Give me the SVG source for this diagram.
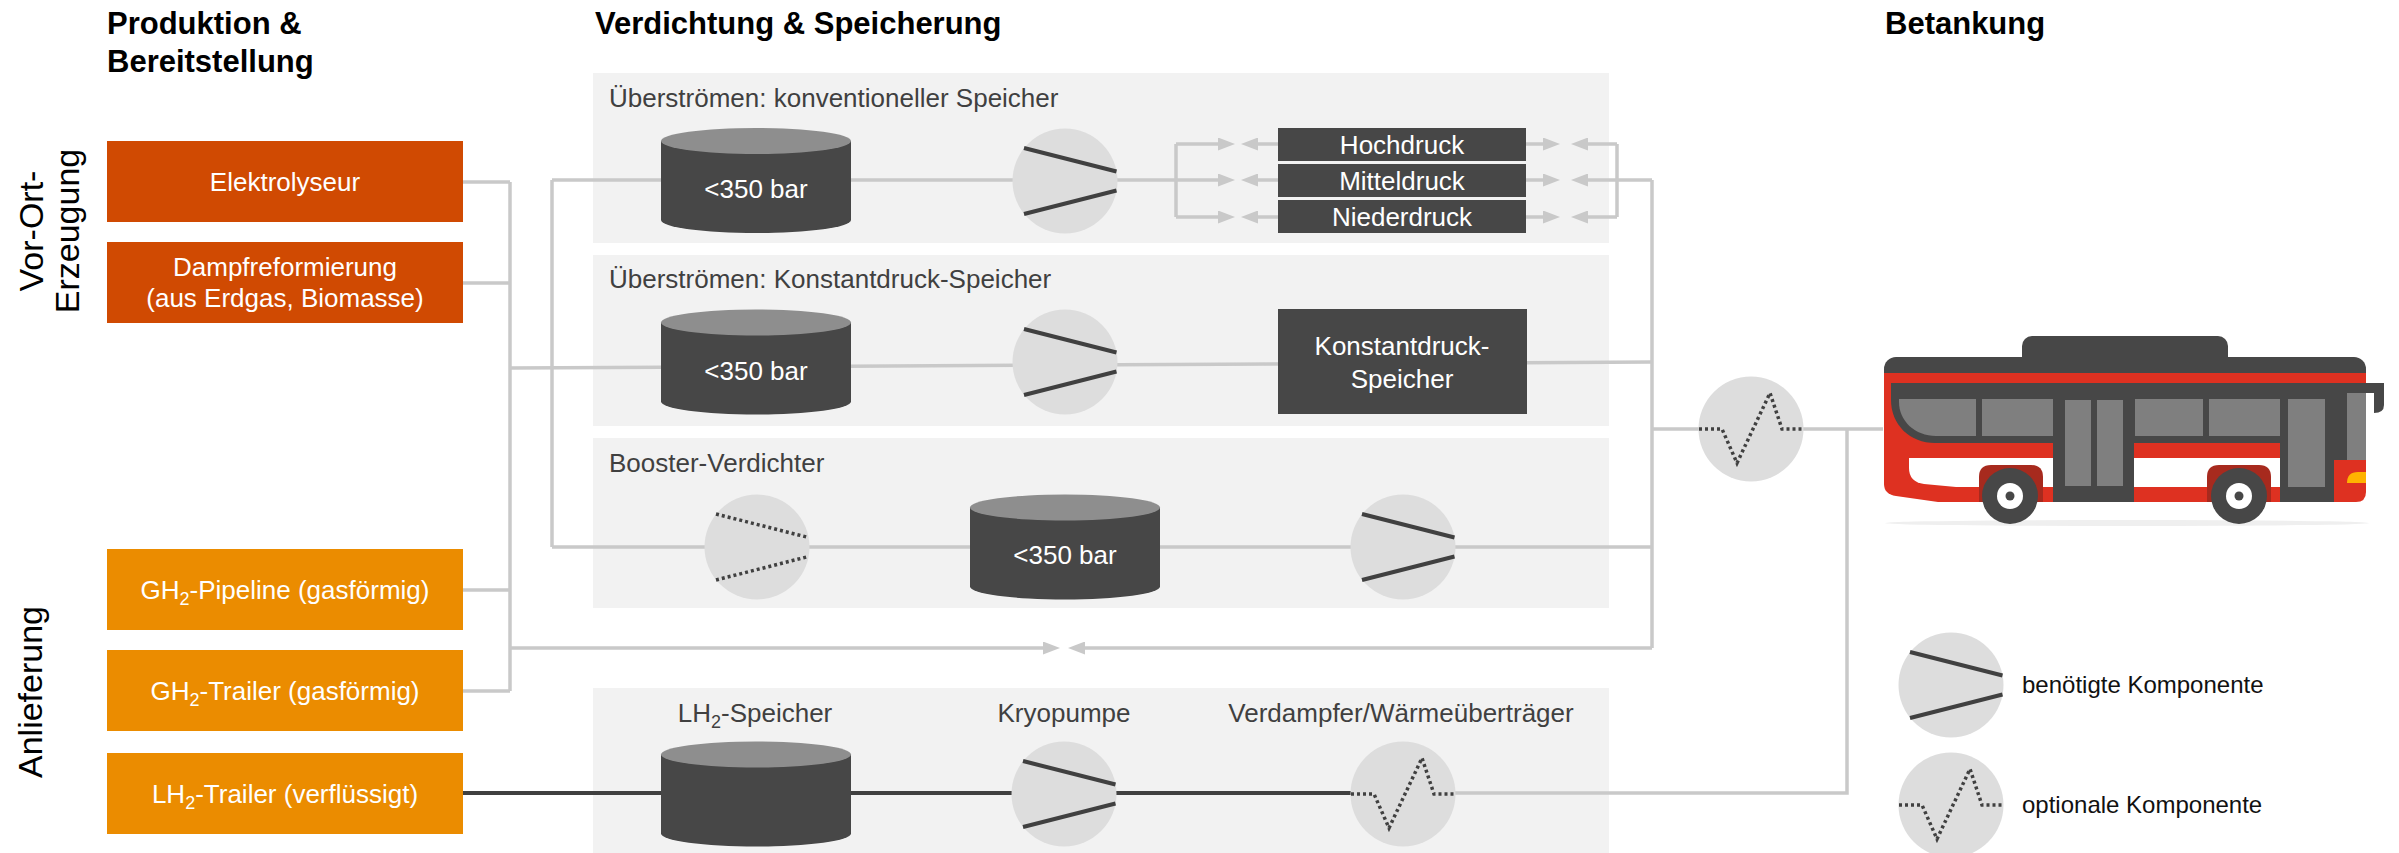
<svg xmlns="http://www.w3.org/2000/svg" xmlns:xlink="http://www.w3.org/1999/xlink" width="2399" height="853" viewBox="0 0 2399 853">
  <style>
    text { font-family: "Liberation Sans", Arial, sans-serif; }
    .title { font-size: 31px; font-weight: bold; fill: #000; }
    .side { font-size: 34px; fill: #000; text-anchor: middle; }
    .box-red { fill: #D04A02; }
    .box-org { fill: #EB8C00; }
    .box-dark { fill: #474747; }
    .wt { font-size: 26px; fill: #fff; text-anchor: middle; }
    .sec { fill: #F2F2F2; }
    .lbl { font-size: 26px; fill: #404040; }
    .lblc { font-size: 26px; fill: #404040; text-anchor: middle; }
    .legend { font-size: 24px; fill: #111; }
    .conn { fill: none; stroke: #C9C9C9; stroke-width: 3.5; }
    .flow { fill: none; stroke: #404040; stroke-width: 4; }
    .disc { fill: #DDDDDD; }
    .solid { fill: none; stroke: #404040; stroke-width: 4; }
    .dots { fill: none; stroke: #404040; stroke-width: 3.5; stroke-dasharray: 3 3; }
  </style>
  <defs>
    <marker id="arr" viewBox="0 0 17 13" refX="0" refY="6.5" markerWidth="17" markerHeight="13" markerUnits="userSpaceOnUse" orient="auto">
      <path d="M0,0 L17,6.5 L0,13 Z" fill="#C9C9C9"/>
    </marker>
    <!-- compressor (required) -->
    <g id="comp">
      <circle r="52.5" class="disc"/>
      <path d="M-41,-33 L51.5,-9.5 M-41,33 L51.5,9.5" class="solid"/>
    </g>
    <!-- compressor (optional) -->
    <g id="comp-opt">
      <circle r="52.5" class="disc"/>
      <path d="M-41,-33 L51.5,-9.5 M-41,33 L51.5,9.5" class="dots"/>
    </g>
    <!-- heat exchanger (optional) -->
    <g id="hx">
      <circle r="52.5" class="disc"/>
      <polyline points="-52,0 -29,0 -14,34 19,-36 31,0 52,0" class="dots"/>
    </g>
    <!-- storage vessel -->
    <g id="cyl">
      <path d="M-95,-39.5 V39.5 A95,13 0 0 0 95,39.5 V-39.5 Z" fill="#474747"/>
      <ellipse cy="-39.5" rx="95" ry="13" fill="#8E8E8E"/>
    </g>
  </defs>

  <rect width="2399" height="853" fill="#fff"/>

  <!-- column headings -->
  <g id="headings">
    <text class="title" x="107" y="34">Produktion &amp;</text>
    <text class="title" x="107" y="72">Bereitstellung</text>
    <text class="title" x="595" y="34">Verdichtung &amp; Speicherung</text>
    <text class="title" x="1885" y="34">Betankung</text>
  </g>

  <!-- row headings -->
  <g id="side-labels">
    <text class="side" transform="translate(43,231) rotate(-90)">Vor-Ort-</text>
    <text class="side" transform="translate(79,231) rotate(-90)">Erzeugung</text>
    <text class="side" transform="translate(42,692) rotate(-90)">Anlieferung</text>
  </g>

  <!-- process sections -->
  <g id="sec-konventionell">
    <rect class="sec" x="593" y="73" width="1016" height="170"/>
    <text class="lbl" x="609" y="107">Überströmen: konventioneller Speicher</text>
  </g>
  <g id="sec-konstantdruck">
    <rect class="sec" x="593" y="255" width="1016" height="171"/>
    <text class="lbl" x="609" y="288">Überströmen: Konstantdruck-Speicher</text>
  </g>
  <g id="sec-booster">
    <rect class="sec" x="593" y="438" width="1016" height="170"/>
    <text class="lbl" x="609" y="472">Booster-Verdichter</text>
  </g>
  <g id="sec-lh2">
    <rect class="sec" x="593" y="688" width="1016" height="165"/>
    <text class="lblc" x="755" y="722">LH<tspan font-size="18" dy="6">2</tspan><tspan dy="-6">-Speicher</tspan></text>
    <text class="lblc" x="1064" y="722">Kryopumpe</text>
    <text class="lblc" x="1401" y="722">Verdampfer/Wärmeüberträger</text>
  </g>

  <!-- connectors -->
  <g id="connectors">
    <path class="conn" d="M463,182 H510 M463,283 H510 M463,590 H510 M463,691 H510 M510,182 V691"/>
    <path class="conn" d="M510,368 L1652,362"/>
    <path class="conn" d="M552,180 V547 M552,547 H1652"/>
    <path class="conn" d="M552,180 H1218" marker-end="url(#arr)"/>
    <path class="conn" d="M1176,144 V217"/>
    <path class="conn" d="M1176,144 H1218" marker-end="url(#arr)"/>
    <path class="conn" d="M1176,217 H1218" marker-end="url(#arr)"/>
    <path class="conn" d="M1278,144 H1258" marker-end="url(#arr)"/>
    <path class="conn" d="M1278,180 H1258" marker-end="url(#arr)"/>
    <path class="conn" d="M1278,217 H1258" marker-end="url(#arr)"/>
    <path class="conn" d="M1526,144 H1543" marker-end="url(#arr)"/>
    <path class="conn" d="M1526,180 H1543" marker-end="url(#arr)"/>
    <path class="conn" d="M1526,217 H1543" marker-end="url(#arr)"/>
    <path class="conn" d="M1617,144 V217"/>
    <path class="conn" d="M1617,144 H1588" marker-end="url(#arr)"/>
    <path class="conn" d="M1617,217 H1588" marker-end="url(#arr)"/>
    <path class="conn" d="M1652,180 H1588" marker-end="url(#arr)"/>
    <path class="conn" d="M1652,180 V648"/>
    <path class="conn" d="M510,648 H1043" marker-end="url(#arr)"/>
    <path class="conn" d="M1652,648 H1085" marker-end="url(#arr)"/>
    <path class="conn" d="M1652,429 H1883"/>
    <path class="conn" d="M1455,793 H1847 V429"/>
    <path class="flow" d="M463,793 H1352"/>
  </g>

  <!-- supply nodes -->
  <g id="elektrolyseur">
    <rect class="box-red" x="107" y="141" width="356" height="81"/>
    <text class="wt" x="285" y="191">Elektrolyseur</text>
  </g>
  <g id="dampfreformierung">
    <rect class="box-red" x="107" y="242" width="356" height="81"/>
    <text class="wt" x="285" y="276">Dampfreformierung</text>
    <text class="wt" x="285" y="307">(aus Erdgas, Biomasse)</text>
  </g>
  <g id="gh2-pipeline">
    <rect class="box-org" x="107" y="549" width="356" height="81"/>
    <text class="wt" x="285" y="599">GH<tspan font-size="18" dy="6">2</tspan><tspan dy="-6">-Pipeline (gasförmig)</tspan></text>
  </g>
  <g id="gh2-trailer">
    <rect class="box-org" x="107" y="650" width="356" height="81"/>
    <text class="wt" x="285" y="700">GH<tspan font-size="18" dy="6">2</tspan><tspan dy="-6">-Trailer (gasförmig)</tspan></text>
  </g>
  <g id="lh2-trailer">
    <rect class="box-org" x="107" y="753" width="356" height="81"/>
    <text class="wt" x="285" y="803">LH<tspan font-size="18" dy="6">2</tspan><tspan dy="-6">-Trailer (verflüssigt)</tspan></text>
  </g>

  <!-- conventional storage row -->
  <g id="speicher-1">
    <use xlink:href="#cyl" x="756" y="180.5"/>
    <text class="wt" x="756" y="198">&lt;350 bar</text>
  </g>
  <g id="verdichter-1"><use xlink:href="#comp" x="1065" y="181"/></g>
  <g id="hochdruck">
    <rect class="box-dark" x="1278" y="128" width="248" height="33"/>
    <text class="wt" x="1402" y="154">Hochdruck</text>
  </g>
  <g id="mitteldruck">
    <rect class="box-dark" x="1278" y="164" width="248" height="33"/>
    <text class="wt" x="1402" y="190">Mitteldruck</text>
  </g>
  <g id="niederdruck">
    <rect class="box-dark" x="1278" y="200" width="248" height="33"/>
    <text class="wt" x="1402" y="226">Niederdruck</text>
  </g>

  <!-- constant-pressure row -->
  <g id="speicher-2">
    <use xlink:href="#cyl" x="756" y="362"/>
    <text class="wt" x="756" y="380">&lt;350 bar</text>
  </g>
  <g id="verdichter-2"><use xlink:href="#comp" x="1065" y="362"/></g>
  <g id="konstantdruck-speicher">
    <rect class="box-dark" x="1278" y="309" width="249" height="105"/>
    <text class="wt" x="1402" y="355">Konstantdruck-</text>
    <text class="wt" x="1402" y="388">Speicher</text>
  </g>

  <!-- booster row -->
  <g id="verdichter-3"><use xlink:href="#comp-opt" x="757" y="547"/></g>
  <g id="speicher-3">
    <use xlink:href="#cyl" x="1065" y="547"/>
    <text class="wt" x="1065" y="564">&lt;350 bar</text>
  </g>
  <g id="booster"><use xlink:href="#comp" x="1403" y="547"/></g>

  <!-- liquid hydrogen row -->
  <g id="lh2-speicher"><use xlink:href="#cyl" x="756" y="794"/></g>
  <g id="kryopumpe"><use xlink:href="#comp" x="1064" y="794"/></g>
  <g id="verdampfer"><use xlink:href="#hx" x="1403" y="794"/></g>

  <!-- dispenser-side heat exchanger -->
  <g id="waermeuebertraeger"><use xlink:href="#hx" x="1751" y="429"/></g>

  <!-- bus -->
  <g id="bus">
    <ellipse cx="2127" cy="523" rx="242" ry="3" fill="#EFEFEF"/>
    <rect x="2022" y="336" width="206" height="32" rx="10" fill="#474747"/>
    <rect x="1884" y="357" width="482" height="30" rx="12" fill="#474747"/>
    <path d="M1884,373 H2366 V492 Q2366,502 2356,502 H1938 L1896,496 Q1884,494 1884,484 Z" fill="#DE3121"/>
    <path d="M1891,383 H2347 V443 H1935 C1910,443 1891,425 1891,400 Z" fill="#474747"/>
    <rect x="2053" y="383" width="81" height="119" fill="#474747"/>
    <rect x="2280" y="383" width="54" height="119" fill="#474747"/>
    <rect x="2334" y="383" width="13" height="77" fill="#474747"/>
    <path d="M2347,383 H2384 V405 Q2384,413 2374,413 V393 H2347 Z" fill="#474747"/>
    <rect x="2347" y="393" width="19" height="67" fill="#7F7F7F"/>
    <path d="M2366,472 V483 H2347 Q2347,472 2358,472 Z" fill="#FFB300"/>
    <path d="M1909,458 H2053 V487 H1956 L1924,484 Q1909,482 1909,468 Z" fill="#fff"/>
    <rect x="2134" y="458" width="146" height="29" fill="#fff"/>
    <path d="M1899,399 H1976 V436 H1936 C1915,436 1899,421 1899,402 Z" fill="#7F7F7F"/>
    <rect x="1982" y="399" width="71" height="37" fill="#7F7F7F"/>
    <rect x="2065" y="400" width="26" height="86" fill="#7F7F7F"/>
    <rect x="2097" y="400" width="26" height="86" fill="#7F7F7F"/>
    <rect x="2135" y="399" width="68" height="37" fill="#7F7F7F"/>
    <rect x="2209" y="399" width="71" height="37" fill="#7F7F7F"/>
    <rect x="2288" y="399" width="37" height="88" fill="#7F7F7F"/>
    <path d="M1979,502 V477 Q1979,465 1991,465 H2031 Q2043,465 2043,477 V502 Z" fill="#A72A1E"/>
    <path d="M2207,502 V477 Q2207,465 2219,465 H2259 Q2271,465 2271,477 V502 Z" fill="#A72A1E"/>
    <circle cx="2010" cy="496" r="28" fill="#474747"/>
    <circle cx="2010" cy="496" r="13" fill="#fff"/>
    <circle cx="2010" cy="496" r="4.5" fill="#474747"/>
    <circle cx="2239" cy="496" r="28" fill="#474747"/>
    <circle cx="2239" cy="496" r="13" fill="#fff"/>
    <circle cx="2239" cy="496" r="4.5" fill="#474747"/>
  </g>

  <!-- legend -->
  <g id="legend-required">
    <use xlink:href="#comp" x="1951" y="685"/>
    <text class="legend" x="2022" y="693">benötigte Komponente</text>
  </g>
  <g id="legend-optional">
    <use xlink:href="#hx" x="1951" y="805"/>
    <text class="legend" x="2022" y="813">optionale Komponente</text>
  </g>
</svg>
